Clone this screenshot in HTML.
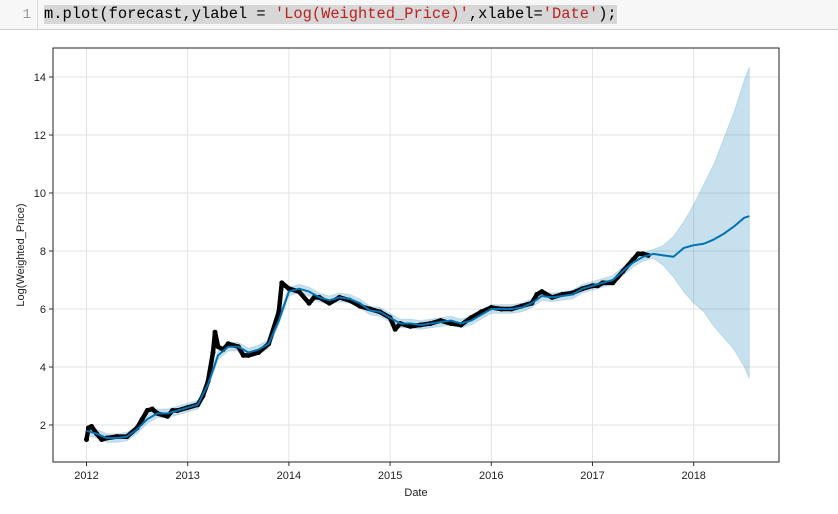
<!DOCTYPE html>
<html><head><meta charset="utf-8"><style>
body{margin:0;width:838px;height:514px;background:#fff;overflow:hidden;font-family:"Liberation Sans",sans-serif}
#cell{position:absolute;left:0;top:0;width:838px;height:30px;background:#f7f7f7;border-bottom:1px solid #cfcfcf;box-sizing:border-box}
#ln{position:absolute;left:0;top:0;width:38px;height:30px;border-right:1px solid #ddd;color:#999;font:14px "Liberation Mono",monospace;text-align:right;line-height:30px;box-sizing:border-box;padding-right:6px}
#code{position:absolute;left:44px;top:5px;height:19px;line-height:19px;background:#d7d7d7;font:15.4px "Liberation Mono",monospace;color:#000;white-space:pre}
.s{color:#ba2121}
</style></head><body>
<div id="cell">
<div id="ln">1</div>
<div id="code">m.plot(forecast,ylabel = <span class="s">'Log(Weighted_Price)'</span>,xlabel=<span class="s">'Date'</span>);</div>
</div>
<svg id="chart" width="838" height="514" style="position:absolute;left:0;top:0"></svg>
<script>
const dates=[2012.0,2012.1,2012.2,2012.3,2012.4,2012.5,2012.6,2012.7,2012.8,2012.9,2013.0,2013.1,2013.2,2013.3,2013.4,2013.5,2013.6,2013.7,2013.8,2013.9,2014.0,2014.1,2014.2,2014.3,2014.4,2014.5,2014.6,2014.7,2014.8,2014.9,2015.0,2015.1,2015.2,2015.3,2015.4,2015.5,2015.6,2015.7,2015.8,2015.9,2016.0,2016.1,2016.2,2016.3,2016.4,2016.5,2016.6,2016.7,2016.8,2016.9,2017.0,2017.1,2017.2,2017.3,2017.4,2017.5,2017.6,2017.7,2017.8,2017.9,2018.0,2018.1,2018.2,2018.3,2018.4,2018.5,2018.55];
const yhat=[1.8,1.7,1.55,1.55,1.6,1.85,2.2,2.4,2.4,2.5,2.6,2.7,3.4,4.4,4.7,4.7,4.5,4.6,4.8,5.6,6.6,6.7,6.6,6.4,6.3,6.4,6.35,6.2,5.95,5.9,5.7,5.5,5.5,5.45,5.5,5.55,5.6,5.5,5.6,5.8,6.0,6.0,6.0,6.05,6.2,6.45,6.4,6.45,6.5,6.7,6.8,6.9,7.0,7.3,7.6,7.8,7.9,7.85,7.8,8.1,8.2,8.25,8.4,8.6,8.85,9.15,9.2];
const upper=[1.95,1.85,1.7,1.7,1.75,2.0,2.35,2.55,2.55,2.65,2.75,2.85,3.55,4.55,4.85,4.85,4.65,4.75,4.95,5.75,6.75,6.85,6.75,6.55,6.45,6.55,6.5,6.35,6.1,6.05,5.85,5.65,5.65,5.6,5.65,5.7,5.75,5.65,5.75,5.95,6.15,6.15,6.15,6.2,6.35,6.6,6.55,6.6,6.65,6.85,6.95,7.05,7.15,7.45,7.75,7.95,8.05,8.2,8.5,9.0,9.6,10.3,11.0,11.9,12.8,13.9,14.35];
const lower=[1.65,1.55,1.4,1.4,1.45,1.7,2.05,2.25,2.25,2.35,2.45,2.55,3.25,4.25,4.55,4.55,4.35,4.45,4.65,5.45,6.45,6.55,6.45,6.25,6.15,6.25,6.2,6.05,5.8,5.75,5.55,5.35,5.35,5.3,5.35,5.4,5.45,5.35,5.45,5.65,5.85,5.85,5.85,5.9,6.05,6.3,6.25,6.3,6.35,6.55,6.65,6.75,6.85,7.15,7.45,7.65,7.75,7.5,7.1,6.6,6.2,5.9,5.4,5.0,4.6,4.0,3.6];
const obsDates=[2012.0,2012.02,2012.05,2012.1,2012.15,2012.2,2012.3,2012.4,2012.5,2012.55,2012.6,2012.65,2012.7,2012.8,2012.85,2012.9,2013.0,2013.1,2013.15,2013.2,2013.25,2013.27,2013.3,2013.35,2013.4,2013.5,2013.55,2013.6,2013.7,2013.8,2013.9,2013.93,2014.0,2014.1,2014.2,2014.25,2014.3,2014.4,2014.5,2014.6,2014.7,2014.8,2014.9,2015.0,2015.05,2015.1,2015.2,2015.3,2015.4,2015.5,2015.6,2015.7,2015.8,2015.9,2016.0,2016.1,2016.2,2016.3,2016.4,2016.45,2016.5,2016.6,2016.7,2016.8,2016.9,2017.0,2017.05,2017.1,2017.2,2017.25,2017.3,2017.4,2017.45,2017.5,2017.55];
const obs=[1.5,1.9,1.95,1.7,1.5,1.55,1.6,1.6,1.9,2.2,2.5,2.55,2.4,2.3,2.5,2.5,2.6,2.7,3.0,3.5,4.5,5.2,4.7,4.6,4.8,4.7,4.4,4.4,4.5,4.8,5.9,6.9,6.7,6.6,6.2,6.4,6.4,6.2,6.4,6.3,6.1,6.0,5.9,5.7,5.3,5.5,5.4,5.45,5.5,5.6,5.5,5.45,5.7,5.9,6.05,6.0,6.0,6.1,6.2,6.5,6.6,6.4,6.5,6.55,6.7,6.8,6.8,6.9,6.9,7.1,7.3,7.7,7.9,7.9,7.85];
const yTicks=[2,4,6,8,10,12,14];
const xTicks=[2012,2013,2014,2015,2016,2017,2018];

const L=53,R=779,T=48,B=462;
const X=d=>86.5+(d-2012)*101.2;
const Y=v=>425-(v-2)*29;
const svg=document.getElementById('chart');
const NS='http://www.w3.org/2000/svg';
function mk(tag,attrs,parent){const e=document.createElementNS(NS,tag);for(const k in attrs)e.setAttribute(k,attrs[k]);(parent||svg).appendChild(e);return e;}

const grid=mk('g',{});


yTicks.forEach(v=>{
  const l=mk('line',{x1:L,x2:R,y1:Y(v),y2:Y(v),stroke:'#e3e3e3','stroke-width':1},grid);
  
  
  const t=mk('line',{x1:L-4,x2:L,y1:Y(v),y2:Y(v),stroke:'#333'});
  
  
  const tx=mk('text',{x:L-7,y:Y(v)+4,'text-anchor':'end','font-size':11,fill:'#222','font-family':'Liberation Sans, sans-serif'});
  tx.textContent=v;
  
  
});
xTicks.forEach(d=>{
  const l=mk('line',{x1:X(d),x2:X(d),y1:T,y2:B,stroke:'#e3e3e3','stroke-width':1},grid);
  
  
  const t=mk('line',{x1:X(d),x2:X(d),y1:B,y2:B+4,stroke:'#333'});
  
  
  const tx=mk('text',{x:X(d),y:B+17,'text-anchor':'middle','font-size':11,fill:'#222','font-family':'Liberation Sans, sans-serif'});
  tx.textContent=d;
  
  
});

let bp='';
dates.forEach((d,i)=>{bp+=(i?'L':'M')+X(d)+','+Y(upper[i]);});
for(let i=dates.length-1;i>=0;i--)bp+='L'+X(dates[i])+','+Y(lower[i]);
const band=mk('path',{d:bp+'Z',fill:'#0072b2','fill-opacity':0.22,stroke:'#0072b2','stroke-opacity':0.15});



let op='';
obsDates.forEach((d,i)=>{op+=(i?'L':'M')+X(d)+','+Y(obs[i]);});
const obsLine=mk('path',{d:op,fill:'none',stroke:'#000','stroke-width':4.5,'stroke-linejoin':'round','stroke-linecap':'round'});


obsDates.forEach((d,i)=>{
  const c=mk('circle',{cx:X(d),cy:Y(obs[i]),r:2.5,fill:'#000'});
  
  
});

let lp='';
dates.forEach((d,i)=>{lp+=(i?'L':'M')+X(d)+','+Y(yhat[i]);});
const fl=mk('path',{d:lp,fill:'none',stroke:'#0072b2','stroke-width':2,'stroke-linejoin':'round'});



const frame=mk('rect',{x:L,y:T,width:R-L,height:B-T,fill:'none',stroke:'#222','stroke-width':1});



const xl=mk('text',{x:(L+R)/2,y:496,'text-anchor':'middle','font-size':11,fill:'#222','font-family':'Liberation Sans, sans-serif'});
xl.textContent='Date';


const yl=mk('text',{x:0,y:0,'text-anchor':'middle','font-size':11,fill:'#222','font-family':'Liberation Sans, sans-serif',transform:'translate(24,255) rotate(-90)'});
yl.textContent='Log(Weighted_Price)';


</script>
</body></html>
